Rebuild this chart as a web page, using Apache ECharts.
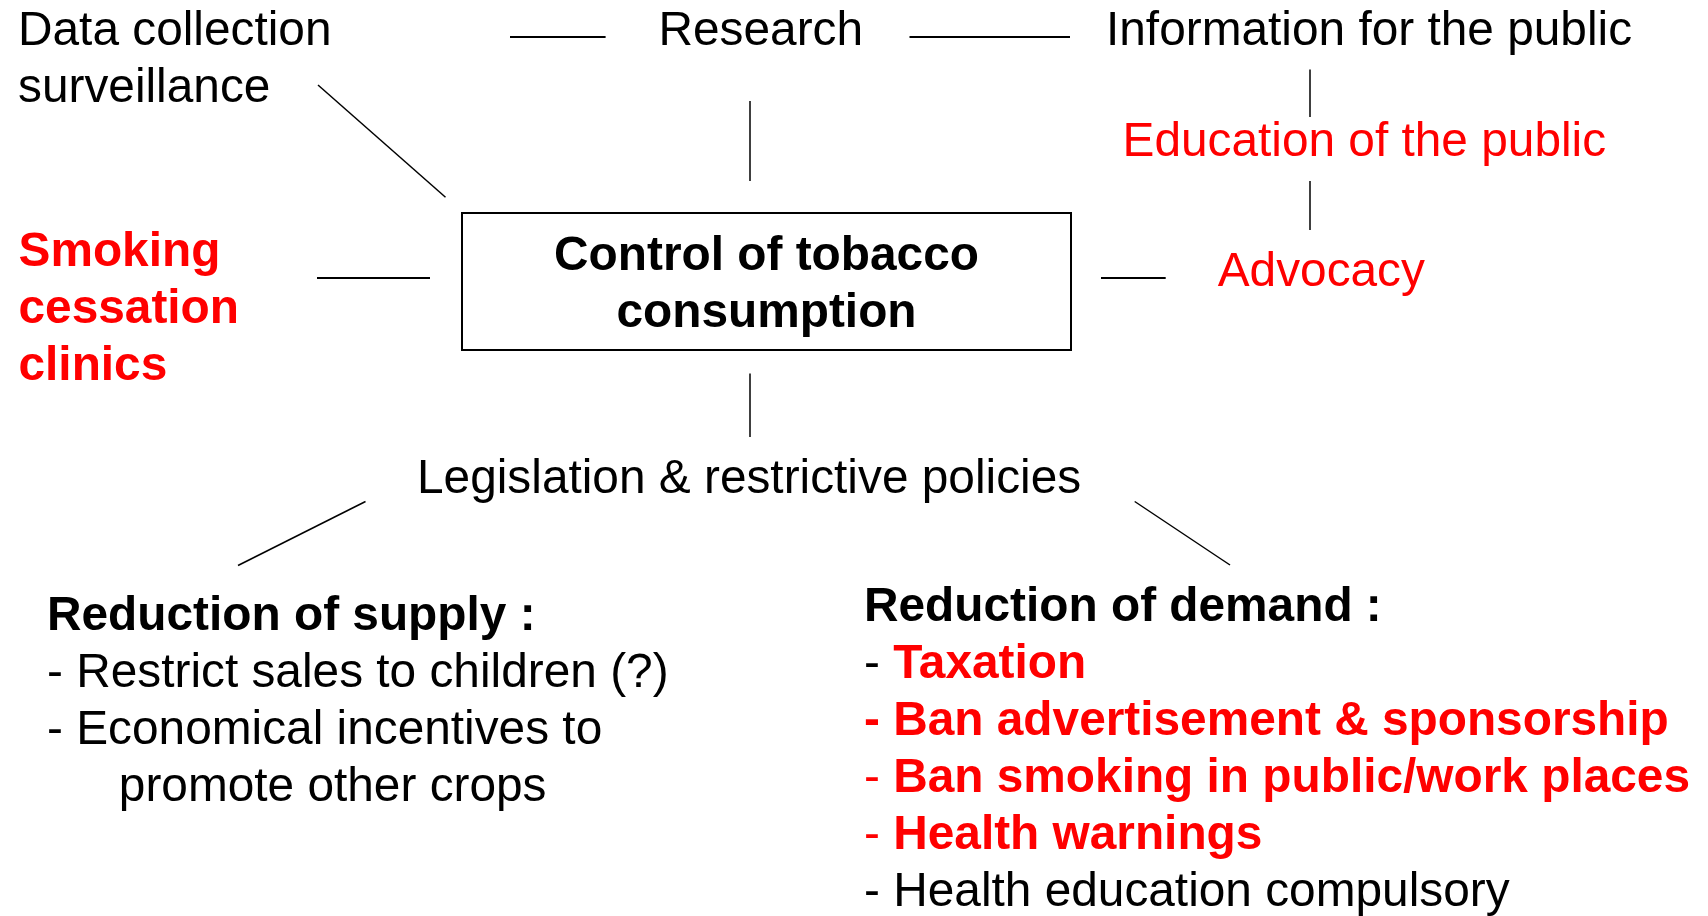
<!DOCTYPE html>
<html>
<head>
<meta charset="utf-8">
<script src="https://cdn.jsdelivr.net/npm/echarts@6/dist/echarts.min.js"></script>
<style>
html, body { margin: 0; padding: 0; background: #fff; }
#diagram { width: 1708px; height: 916px; }
</style>
</head>
<body>
<div id="diagram"></div>
<script>
// diagram content
var nodeNames = ['data', 'research', 'info', 'education', 'advocacy', 'smoking', 'control', 'legislation', 'supply', 'demand'];
var nodeLines = [
    ['Data collection', 'surveillance'],
    ['Research'],
    ['Information for the public'],
    ['Education of the public'],
    ['Advocacy'],
    ['Smoking', 'cessation', 'clinics'],
    ['Control of tobacco', 'consumption'],
    ['Legislation & restrictive policies'],
    ['Reduction of supply :'],
    ['Reduction of demand :']
];
var nodeKind = ['plain', 'plain', 'plain', 'red', 'red', 'redBold', 'box', 'plain', 'header', 'header'];
var supplyItems = ['Restrict sales to children (?)', 'Economical incentives to', 'promote other crops'];
var supplyContinued = [false, false, true];
var demandItems = ['Taxation', 'Ban advertisement & sponsorship', 'Ban smoking in public/work places', 'Health warnings', 'Health education compulsory'];
var demandKey = [true, true, true, true, false];
var links = [
    ['data', 'research'], ['research', 'info'], ['info', 'education'], ['education', 'advocacy'],
    ['data', 'control'], ['research', 'control'], ['smoking', 'control'], ['control', 'advocacy'],
    ['control', 'legislation'], ['legislation', 'supply'], ['legislation', 'demand']
];

// layout on the page grid (text anchors sit on the first baseline)
var anchor = {
    data: [18, 45], research: [658.5, 45], info: [1106, 45],
    education: [1122.5, 156.7], advocacy: [1217.7, 286], smoking: [18.5, 266.7],
    control: [766.5, 281.5], legislation: [417, 493.5],
    supply: [47, 630], demand: [864, 621.7]
};
var boxSize = [609, 137];
var linkEnds = {
    'data-research': [[510, 37], [605.6, 37]],
    'research-info': [[909.5, 37], [1070, 37]],
    'info-education': [[1309.5, 69.5], [1309.5, 117]],
    'education-advocacy': [[1309.5, 181], [1309.5, 230]],
    'data-control': [[318, 85], [445.5, 197.3]],
    'research-control': [[750, 101], [750, 181]],
    'smoking-control': [[317, 277.8], [430, 277.8]],
    'control-advocacy': [[1101, 277.8], [1165.7, 277.8]],
    'control-legislation': [[750, 373.5], [750, 437]],
    'legislation-supply': [[365.5, 501.5], [238, 565.5]],
    'legislation-demand': [[1134.7, 501.5], [1230, 565]]
};

var FS = 47.8, LH = 57;
var RED = '#ff0000';
var FONT = '"Liberation Sans", Arial, Helvetica, sans-serif';

function style(extra) {
    var s = {
        fontSize: FS, lineHeight: LH, fontFamily: FONT, color: '#000',
        opacity: 1, textBorderWidth: 0, textShadowBlur: 0
    };
    for (var k in extra) s[k] = extra[k];
    return s;
}
var rich = {
    plain: style({}),
    red: style({ color: RED }),
    redBold: style({ color: RED, fontWeight: 'bold' }),
    header: style({ fontWeight: 'bold' }),
    box: style({ fontWeight: 'bold', align: 'center' }),
    indent: style({ padding: [0, 0, 0, 71.8] })
};

function labelText(i) {
    var name = nodeNames[i];
    var lines = nodeLines[i].map(function (l) { return '{' + nodeKind[i] + '|' + l + '}'; });
    if (name === 'supply') {
        supplyItems.forEach(function (t, k) {
            lines.push(supplyContinued[k] ? '{indent|' + t + '}' : '{plain|- ' + t + '}');
        });
    }
    if (name === 'demand') {
        demandItems.forEach(function (t, k) {
            if (!demandKey[k]) lines.push('{plain|- ' + t + '}');
            else if (k === 1) lines.push('{redBold|- ' + t + '}');
            else lines.push('{' + (k === 0 ? 'plain' : 'red') + '|- }{redBold|' + t + '}');
        });
    }
    return lines.join('\n');
}

var nodeData = nodeNames.map(function (name, i) {
    var item = { name: name, value: anchor[name] };
    if (nodeKind[i] === 'box') {
        item.label = { position: 'inside', align: 'center', verticalAlign: 'middle', offset: [0, 3.5] };
    }
    return item;
});
var boxData = nodeNames.filter(function (n, i) { return nodeKind[i] === 'box'; })
    .map(function (n) { return anchor[n]; });

var linkData = links.map(function (l) {
    var c = linkEnds[l[0] + '-' + l[1]];
    var flat = c[0][1] === c[1][1];
    return { coords: c, lineStyle: { width: flat ? 2 : 1.5, color: '#000', opacity: 1 } };
});

var chart = echarts.init(document.getElementById('diagram'));
chart.setOption({
    animation: false,
    backgroundColor: '#fff',
    grid: { left: 0, right: 0, top: 0, bottom: 0 },
    xAxis: { type: 'value', min: 0, max: 1708, show: false },
    yAxis: { type: 'value', min: 0, max: 916, inverse: true, show: false },
    series: [
        {
            type: 'lines',
            coordinateSystem: 'cartesian2d',
            silent: true,
            clip: false,
            lineStyle: { color: '#000', opacity: 1 },
            data: linkData
        },
        {
            type: 'custom',
            silent: true,
            clip: false,
            data: boxData,
            renderItem: function (params, api) {
                var c = api.coord([api.value(0), api.value(1)]);
                return {
                    type: 'rect',
                    shape: { x: c[0] - boxSize[0] / 2, y: c[1] - boxSize[1] / 2, width: boxSize[0], height: boxSize[1] },
                    style: { fill: '#fff', stroke: '#000', lineWidth: 2 }
                };
            }
        },
        {
            type: 'scatter',
            silent: true,
            clip: false,
            z: 3,
            symbolSize: 0,
            itemStyle: { color: 'rgba(0,0,0,0)', opacity: 1 },
            label: {
                show: true,
                opacity: 1,
                position: [0, 0],
                align: 'left',
                verticalAlign: 'top',
                offset: [0, -(LH / 2 + 0.28 * FS)],
                formatter: function (p) { return labelText(p.dataIndex); },
                rich: rich
            },
            data: nodeData
        }
    ]
});
</script>
</body>
</html>
